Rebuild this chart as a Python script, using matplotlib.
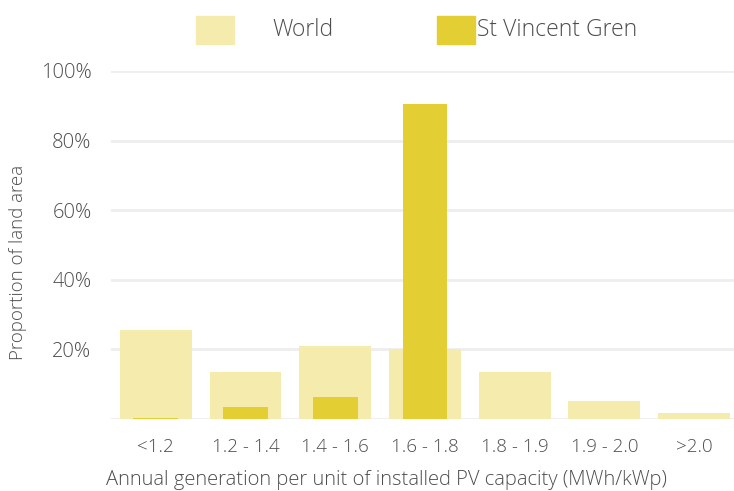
import matplotlib.pyplot as plt
from matplotlib.patches import Rectangle
import numpy as np

# 데이터
categories = ['<1.2', '1.2 - 1.4', '1.4 - 1.6', '1.6 - 1.8', '1.8 - 1.9', '1.9 - 2.0', '>2.0']
world = [25.6, 13.5, 21.0, 20.0, 13.5, 5.3, 1.6]
svg = [0.4, 3.5, 6.3, 90.5, 0, 0, 0]
yticks = [20, 40, 60, 80, 100]
ytick_labels = ['20%', '40%', '60%', '80%', '100%']

c_world = '#F4EBAC'
c_svg = '#E3CF33'
c_text = '#4D4D4D'
W, H = 734, 491

plt.rcParams['font.family'] = ['Open Sans', 'DejaVu Sans']

fig = plt.figure(figsize=(W / 100, H / 100), dpi=100)
ax = fig.add_axes([111 / W, 72 / H, 1 - 111 / W, (419 - 71) / H])

x = np.arange(len(categories))
ax.bar(x, world, width=0.8, color=c_world, zorder=2)
ax.bar(x, svg, width=0.5, color=c_svg, zorder=3)

ax.set_xlim(-0.5, 6.445)
ax.set_ylim(0, 100)
ax.set_yticks([0] + yticks)
ax.set_yticklabels([''] + ytick_labels)
ax.set_xticks(x)
ax.set_xticklabels(categories)
ax.tick_params(length=0, labelcolor=c_text)
ax.tick_params(axis='y', pad=14, labelsize=14.5)
ax.tick_params(axis='x', pad=14, labelsize=13.5)
for lab in ax.get_xticklabels() + ax.get_yticklabels():
    lab.set_fontweight('light')
ax.grid(axis='y', color='#EEEEEE', linewidth=2, zorder=0)
for s in ax.spines.values():
    s.set_visible(False)

# 축 제목
fig.text(18 / W, 1 - 262 / H, 'Proportion of land area', rotation=90, ha='center', va='center',
         fontsize=13.5, color=c_text, fontweight='light')
fig.text(386 / W, 1 - 480 / H, 'Annual generation per unit of installed PV capacity (MWh/kWp)',
         ha='center', va='center', fontsize=14.5, color=c_text, fontweight='light')

# 범례 (수동 배치)
fig.patches.append(Rectangle((196 / W, 1 - 44 / H), 38 / W, 28 / H, transform=fig.transFigure,
                             color=c_world, figure=fig))
fig.patches.append(Rectangle((437 / W, 1 - 44 / H), 38 / W, 28 / H, transform=fig.transFigure,
                             color=c_svg, figure=fig))
fig.text(272 / W, 1 - 30 / H, 'World', ha='left', va='center', fontsize=16.5, color=c_text, fontweight='light')
fig.text(477 / W, 1 - 30 / H, 'St Vincent Gren', ha='left', va='center', fontsize=16.5, color=c_text,
         fontweight='light')

fig.savefig('out.png', dpi=100)
